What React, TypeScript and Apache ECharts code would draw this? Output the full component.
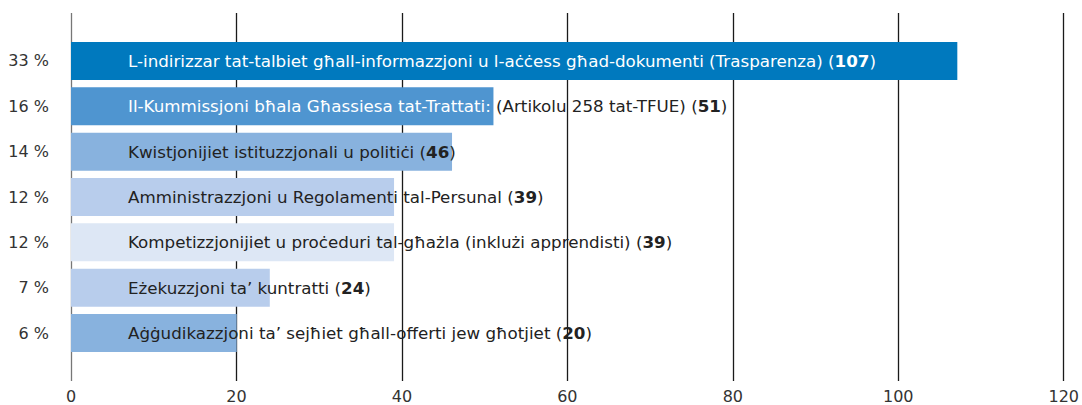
import React, { useEffect, useRef } from "react";
import * as echarts from "echarts";

const percents = ["33 %", "16 %", "14 %", "12 %", "12 %", "7 %", "6 %"];
const insideTexts = [
  "L-indirizzar tat-talbiet għall-informazzjoni u l-aċċess għad-dokumenti (Trasparenza)",
  "Il-Kummissjoni bħala Għassiesa tat-Trattati:",
  "Kwistjonijiet istituzzjonali u politiċi",
  "Amministrazzjoni u Regolamenti tal-Persunal",
  "Kompetizzjonijiet u proċeduri tal-għażla (inklużi apprendisti)",
  "Eżekuzzjoni ta’ kuntratti",
  "Aġġudikazzjoni ta’ sejħiet għall-offerti jew għotjiet",
];
const outsideTexts = ["", "(Artikolu 258 tat-TFUE)", "", "", "", "", ""];
const values = [107, 51, 46, 39, 39, 24, 20];
const barColors = ["#0079be", "#4f95d0", "#88b2de", "#b8cdec", "#dde7f5", "#b8cdec", "#88b2de"];
const whiteText = [true, true, false, false, false, false, false];
const xTicks = [0, 20, 40, 60, 80, 100, 120];

const FONT = "'DejaVu Sans', sans-serif";
const FS = 16.7;

export default function App() {
  const ref = useRef<HTMLDivElement>(null);
  useEffect(() => {
    const chart = echarts.init(ref.current!, undefined, { renderer: "svg" });
    const labelFor = (i: number) => {
      const w = whiteText[i];
      const a = w ? "w" : "d";
      const ab = w ? "wb" : "db";
      if (outsideTexts[i]) {
        return `{${a}|${insideTexts[i]} }{d|${outsideTexts[i]} (}{db|${values[i]}}{d|)}`;
      }
      return `{${a}|${insideTexts[i]} (}{${ab}|${values[i]}}{${a}|)}`;
    };
    chart.setOption({
      animation: false,
      grid: [
        { left: 71, top: 13, width: 994, height: 368 },
        { left: 71, top: 38.3, width: 994, height: 317.4 },
      ],
      xAxis: [
        {
          gridIndex: 0,
          type: "value",
          min: xTicks[0],
          max: xTicks[xTicks.length - 1],
          interval: 20,
          axisLine: { show: false },
          axisTick: { show: false },
          axisLabel: { color: "#333", fontSize: 16, fontFamily: FONT, margin: 7 },
          splitLine: {
            show: true,
            lineStyle: { color: ["#777", "#1a1a1a", "#1a1a1a", "#1a1a1a", "#1a1a1a", "#1a1a1a", "#1a1a1a"], width: 1.3 },
          },
        },
        {
          gridIndex: 1,
          type: "value",
          min: 0,
          max: 120,
          interval: 20,
          show: false,
          splitLine: { show: false },
        },
      ],
      yAxis: [
        { gridIndex: 0, type: "value", show: false, splitLine: { show: false } },
        {
          gridIndex: 1,
          type: "category",
          inverse: true,
          data: percents,
          axisLine: { show: false },
          axisTick: { show: false },
          axisLabel: { color: "#333", fontSize: 16, fontFamily: FONT, margin: 22 },
        },
      ],
      series: [
        {
          type: "bar",
          xAxisIndex: 1,
          yAxisIndex: 1,
          barWidth: 38,
          data: values.map((v, i) => ({
            value: v,
            itemStyle: { color: barColors[i] },
            label: { formatter: labelFor(i) },
          })),
          label: {
            show: true,
            position: [57, "50%"],
            align: "left",
            verticalAlign: "middle",
            fontFamily: FONT,
            fontSize: FS,
            rich: {
              w: { color: "#ffffff", fontSize: FS, fontFamily: FONT },
              wb: { color: "#ffffff", fontSize: FS, fontFamily: FONT, fontWeight: "bold" },
              d: { color: "#222", fontSize: FS, fontFamily: FONT },
              db: { color: "#222", fontSize: FS, fontFamily: FONT, fontWeight: "bold" },
            },
          },
        },
      ],
    });
    return () => chart.dispose();
  }, []);
  return (
    <div
      ref={ref}
      style={{ position: "absolute", left: 0, top: 0, width: 1082, height: 405, background: "#fff" }}
    />
  );
}
